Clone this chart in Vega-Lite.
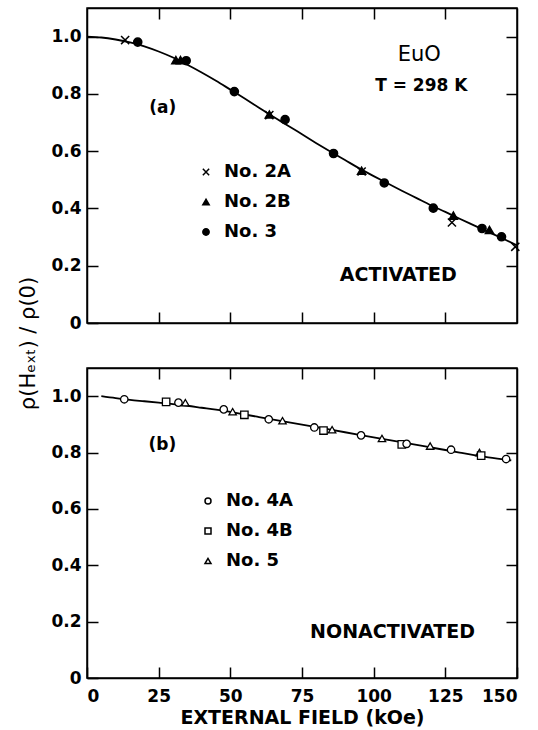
{
  "$schema": "https://vega.github.io/schema/vega-lite/v6.json",
  "background": "white",
  "padding": {"left": 16, "top": 6, "right": 0, "bottom": 0},
  "bounds": "flush",
  "spacing": 45,
  "config": {
    "font": "DejaVu Sans",
    "view": {"stroke": "black", "strokeWidth": 1.5},
    "axis": {
      "grid": false,
      "domainColor": "black",
      "domainWidth": 1.5,
      "tickColor": "black",
      "tickWidth": 1.5,
      "tickSize": -11,
      "labelFont": "DejaVu Sans",
      "labelFontWeight": "bold",
      "labelFontSize": 17,
      "labelColor": "black",
      "titleColor": "black",
      "titleFont": "DejaVu Sans"
    },
    "legend": {
      "padding": 0,
      "labelFont": "DejaVu Sans",
      "labelFontWeight": "bold",
      "labelFontSize": 18,
      "labelColor": "black",
      "rowPadding": 12,
      "labelOffset": 9
    }
  },
  "datasets": {
    "curveA": [
      {"field": 0, "ratio": 1.0}, {"field": 5, "ratio": 0.997}, {"field": 10, "ratio": 0.99},
      {"field": 15, "ratio": 0.98}, {"field": 20, "ratio": 0.966}, {"field": 25, "ratio": 0.948},
      {"field": 30, "ratio": 0.927}, {"field": 35, "ratio": 0.902}, {"field": 40, "ratio": 0.875},
      {"field": 45, "ratio": 0.846}, {"field": 50, "ratio": 0.815}, {"field": 55, "ratio": 0.784},
      {"field": 60, "ratio": 0.752}, {"field": 65, "ratio": 0.72}, {"field": 70, "ratio": 0.69},
      {"field": 75, "ratio": 0.659}, {"field": 80, "ratio": 0.628}, {"field": 85, "ratio": 0.598},
      {"field": 90, "ratio": 0.569}, {"field": 95, "ratio": 0.54}, {"field": 100, "ratio": 0.513},
      {"field": 105, "ratio": 0.487}, {"field": 110, "ratio": 0.461}, {"field": 115, "ratio": 0.436},
      {"field": 120, "ratio": 0.411}, {"field": 125, "ratio": 0.388}, {"field": 130, "ratio": 0.364},
      {"field": 135, "ratio": 0.341}, {"field": 140, "ratio": 0.318}, {"field": 145, "ratio": 0.295},
      {"field": 150, "ratio": 0.271}
    ],
    "pointsA": [
      {"field": 13.3, "ratio": 0.988, "series": "No. 2A"},
      {"field": 17.7, "ratio": 0.981, "series": "No. 3"},
      {"field": 31.0, "ratio": 0.918, "series": "No. 2B"},
      {"field": 32.6, "ratio": 0.918, "series": "No. 2B"},
      {"field": 34.6, "ratio": 0.916, "series": "No. 3"},
      {"field": 51.4, "ratio": 0.808, "series": "No. 3"},
      {"field": 63.6, "ratio": 0.726, "series": "No. 2A"},
      {"field": 63.6, "ratio": 0.728, "series": "No. 2B"},
      {"field": 69.1, "ratio": 0.71, "series": "No. 3"},
      {"field": 86.0, "ratio": 0.592, "series": "No. 3"},
      {"field": 95.8, "ratio": 0.529, "series": "No. 2A"},
      {"field": 95.8, "ratio": 0.532, "series": "No. 2B"},
      {"field": 103.7, "ratio": 0.489, "series": "No. 3"},
      {"field": 120.8, "ratio": 0.401, "series": "No. 3"},
      {"field": 127.8, "ratio": 0.375, "series": "No. 2B"},
      {"field": 127.3, "ratio": 0.351, "series": "No. 2A"},
      {"field": 137.8, "ratio": 0.33, "series": "No. 3"},
      {"field": 140.4, "ratio": 0.325, "series": "No. 2B"},
      {"field": 144.6, "ratio": 0.301, "series": "No. 3"},
      {"field": 149.4, "ratio": 0.266, "series": "No. 2A"}
    ],
    "curveB": [
      {"field": 5, "ratio": 1.0}, {"field": 10, "ratio": 0.993}, {"field": 15, "ratio": 0.987},
      {"field": 20, "ratio": 0.982}, {"field": 25, "ratio": 0.977}, {"field": 30, "ratio": 0.972},
      {"field": 35, "ratio": 0.966}, {"field": 40, "ratio": 0.959}, {"field": 45, "ratio": 0.952},
      {"field": 50, "ratio": 0.944}, {"field": 55, "ratio": 0.935}, {"field": 60, "ratio": 0.926},
      {"field": 65, "ratio": 0.917}, {"field": 70, "ratio": 0.908}, {"field": 75, "ratio": 0.899},
      {"field": 80, "ratio": 0.89}, {"field": 85, "ratio": 0.881}, {"field": 90, "ratio": 0.872},
      {"field": 95, "ratio": 0.863}, {"field": 100, "ratio": 0.854}, {"field": 105, "ratio": 0.845},
      {"field": 110, "ratio": 0.836}, {"field": 115, "ratio": 0.827}, {"field": 120, "ratio": 0.818},
      {"field": 125, "ratio": 0.809}, {"field": 130, "ratio": 0.8}, {"field": 135, "ratio": 0.791},
      {"field": 140, "ratio": 0.783}, {"field": 148, "ratio": 0.772}
    ],
    "pointsB": [
      {"field": 13.0, "ratio": 0.989, "series": "No. 4A"},
      {"field": 27.6, "ratio": 0.98, "series": "No. 4B"},
      {"field": 31.9, "ratio": 0.977, "series": "No. 4A"},
      {"field": 34.3, "ratio": 0.977, "series": "No. 5"},
      {"field": 47.7, "ratio": 0.953, "series": "No. 4A"},
      {"field": 50.8, "ratio": 0.945, "series": "No. 5"},
      {"field": 54.9, "ratio": 0.934, "series": "No. 4B"},
      {"field": 63.4, "ratio": 0.918, "series": "No. 4A"},
      {"field": 68.2, "ratio": 0.913, "series": "No. 5"},
      {"field": 79.3, "ratio": 0.889, "series": "No. 4A"},
      {"field": 82.5, "ratio": 0.878, "series": "No. 4B"},
      {"field": 85.5, "ratio": 0.881, "series": "No. 5"},
      {"field": 95.6, "ratio": 0.861, "series": "No. 4A"},
      {"field": 102.9, "ratio": 0.85, "series": "No. 5"},
      {"field": 109.8, "ratio": 0.829, "series": "No. 4B"},
      {"field": 111.5, "ratio": 0.831, "series": "No. 4A"},
      {"field": 119.7, "ratio": 0.823, "series": "No. 5"},
      {"field": 127.0, "ratio": 0.81, "series": "No. 4A"},
      {"field": 136.9, "ratio": 0.8, "series": "No. 5"},
      {"field": 137.5, "ratio": 0.789, "series": "No. 4B"},
      {"field": 146.2, "ratio": 0.777, "series": "No. 4A"}
    ]
  },
  "resolve": {"scale": {"shape": "independent"}, "legend": {"shape": "independent"}},
  "vconcat": [
    {
      "width": 430,
      "height": 315,
      "resolve": {"axis": {"x": "independent", "y": "independent"}},
      "layer": [
        {
          "data": {"name": "curveA"},
          "mark": {"type": "line", "color": "black", "strokeWidth": 1.8, "interpolate": "monotone"},
          "encoding": {
            "x": {"field": "field", "type": "quantitative", "scale": {"domain": [0, 150], "nice": false},
                  "axis": {"orient": "bottom", "values": [25, 50, 75, 100, 125], "labels": false, "title": null}},
            "y": {"field": "ratio", "type": "quantitative", "scale": {"domain": [0, 1.1], "nice": false},
                  "axis": {"orient": "left", "values": [0, 0.2, 0.4, 0.6, 0.8, 1.0],
                           "labelExpr": "datum.value == 0 ? '0' : format(datum.value, '.1f')",
                           "labelPadding": 17,
                           "title": "ρ(Hₑₓₜ) / ρ(0)",
                           "titleX": -53, "titleY": 335, "titleAngle": 270,
                           "titleAlign": "center", "titleBaseline": "alphabetic",
                           "titleFontSize": 21, "titleFontWeight": "normal"}}
          }
        },
        {
          "data": {"name": "pointsA"},
          "mark": {"type": "point", "filled": true, "fill": "black", "stroke": "black", "strokeWidth": 1.5, "size": 66, "opacity": 1},
          "encoding": {
            "x": {"field": "field", "type": "quantitative", "scale": {"domain": [0, 150], "nice": false},
                  "axis": {"orient": "top", "values": [25, 50, 75, 100, 125], "labels": false, "title": null}},
            "y": {"field": "ratio", "type": "quantitative", "scale": {"domain": [0, 1.1], "nice": false},
                  "axis": {"orient": "right", "values": [0.2, 0.4, 0.6, 0.8, 1.0], "labels": false, "title": null}},
            "shape": {"field": "series", "type": "nominal",
                      "scale": {"domain": ["No. 2A", "No. 2B", "No. 3"], "range": ["M-1,-1L1,1M-1,1L1,-1", "triangle-up", "circle"]},
                      "legend": {"orient": "none", "legendX": 110, "legendY": 155, "title": null,
                                 "symbolSize": 40,
                                 "encode": {"symbols": {"update": {"fill": {"value": "black"}, "stroke": {"value": "black"}, "strokeWidth": {"value": 1.5}, "opacity": {"value": 1}}}}}}
          }
        },
        {
          "data": {"values": [{}]},
          "mark": {"type": "text", "text": "(a)", "fontWeight": "bold", "fontSize": 17, "align": "center", "baseline": "middle", "color": "black"},
          "encoding": {"x": {"datum": 26.4, "type": "quantitative", "axis": null}, "y": {"datum": 0.751, "type": "quantitative", "axis": null}}
        },
        {
          "data": {"values": [{}]},
          "mark": {"type": "text", "text": "EuO", "fontWeight": "normal", "fontSize": 21, "align": "center", "baseline": "middle", "color": "black"},
          "encoding": {"x": {"datum": 115.9, "type": "quantitative", "axis": null}, "y": {"datum": 0.935, "type": "quantitative", "axis": null}}
        },
        {
          "data": {"values": [{}]},
          "mark": {"type": "text", "text": "T = 298 K", "fontWeight": "bold", "fontSize": 17, "align": "center", "baseline": "middle", "color": "black"},
          "encoding": {"x": {"datum": 116.6, "type": "quantitative", "axis": null}, "y": {"datum": 0.828, "type": "quantitative", "axis": null}}
        },
        {
          "data": {"values": [{}]},
          "mark": {"type": "text", "text": "ACTIVATED", "fontWeight": "bold", "fontSize": 19, "align": "center", "baseline": "middle", "color": "black"},
          "encoding": {"x": {"datum": 108.6, "type": "quantitative", "axis": null}, "y": {"datum": 0.169, "type": "quantitative", "axis": null}}
        }
      ]
    },
    {
      "width": 430,
      "height": 310,
      "resolve": {"axis": {"x": "independent", "y": "independent"}},
      "layer": [
        {
          "data": {"name": "curveB"},
          "mark": {"type": "line", "color": "black", "strokeWidth": 1.8, "interpolate": "monotone"},
          "encoding": {
            "x": {"field": "field", "type": "quantitative", "scale": {"domain": [0, 150], "nice": false},
                  "axis": {"orient": "bottom", "values": [0, 25, 50, 75, 100, 125, 150], "labelPadding": 21,
                           "title": "EXTERNAL FIELD (kOe)", "titleFontSize": 19, "titleFontWeight": "bold", "titlePadding": 4}},
            "y": {"field": "ratio", "type": "quantitative", "scale": {"domain": [0, 1.1], "nice": false},
                  "axis": {"orient": "left", "values": [0, 0.2, 0.4, 0.6, 0.8, 1.0],
                           "labelExpr": "datum.value == 0 ? '0' : format(datum.value, '.1f')",
                           "labelPadding": 17, "title": null}}
          }
        },
        {
          "data": {"name": "pointsB"},
          "mark": {"type": "point", "filled": false, "fill": "white", "fillOpacity": 1, "stroke": "black", "strokeWidth": 1.3, "size": 55, "opacity": 1},
          "encoding": {
            "x": {"field": "field", "type": "quantitative", "scale": {"domain": [0, 150], "nice": false},
                  "axis": {"orient": "top", "values": [25, 50, 75, 100, 125], "labels": false, "title": null}},
            "y": {"field": "ratio", "type": "quantitative", "scale": {"domain": [0, 1.1], "nice": false},
                  "axis": {"orient": "right", "values": [0.2, 0.4, 0.6, 0.8, 1.0], "labels": false, "title": null}},
            "shape": {"field": "series", "type": "nominal",
                      "scale": {"domain": ["No. 4A", "No. 4B", "No. 5"], "range": ["circle", "square", "triangle-up"]},
                      "legend": {"orient": "none", "legendX": 112, "legendY": 124, "title": null,
                                 "symbolSize": 36,
                                 "encode": {"symbols": {"update": {"fill": {"value": "white"}, "stroke": {"value": "black"}, "strokeWidth": {"value": 1.2}, "opacity": {"value": 1}}}}}}
          }
        },
        {
          "data": {"values": [{}]},
          "mark": {"type": "text", "text": "(b)", "fontWeight": "bold", "fontSize": 17, "align": "center", "baseline": "middle", "color": "black"},
          "encoding": {"x": {"datum": 26.3, "type": "quantitative", "axis": null}, "y": {"datum": 0.826, "type": "quantitative", "axis": null}}
        },
        {
          "data": {"values": [{}]},
          "mark": {"type": "text", "text": "NONACTIVATED", "fontWeight": "bold", "fontSize": 19, "align": "center", "baseline": "middle", "color": "black"},
          "encoding": {"x": {"datum": 106.6, "type": "quantitative", "axis": null}, "y": {"datum": 0.163, "type": "quantitative", "axis": null}}
        }
      ]
    }
  ]
}
